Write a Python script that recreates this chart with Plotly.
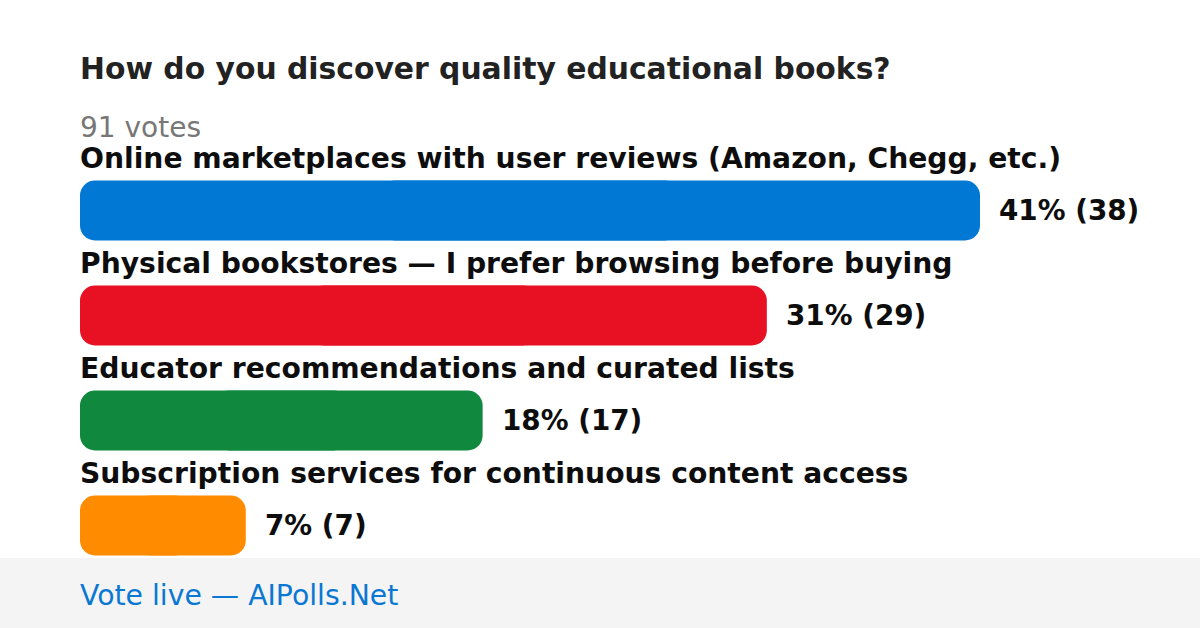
import plotly.graph_objects as go

title = "How do you discover quality educational books?"
subtitle = "91 votes"
footer = "Vote live — AIPolls.Net"
categories = [
    "Online marketplaces with user reviews (Amazon, Chegg, etc.)",
    "Physical bookstores — I prefer browsing before buying",
    "Educator recommendations and curated lists",
    "Subscription services for continuous content access",
]
votes = [38, 29, 17, 7]
percents = [41, 31, 18, 7]
colors = ["#0078d4", "#e81123", "#10893e", "#ff8c00"]

FONT = "DejaVu Sans"
W, H = 1200, 628
L, R, T, B = 80, 220, 158, 50
BAR_W = 60 / 105

fig = go.Figure()
# Each bar is drawn as two overlapping halves so that both ends get rounded corners.
fig.add_trace(go.Bar(
    y=categories, x=[v * 2 / 3 for v in votes], base=[v / 3 for v in votes], orientation="h",
    marker=dict(color=colors, line=dict(width=0)), width=BAR_W, hoverinfo="skip",
))
fig.add_trace(go.Bar(
    y=categories, x=[-v * 2 / 3 for v in votes], base=[v * 2 / 3 for v in votes], orientation="h",
    marker=dict(color=colors, line=dict(width=0)), width=BAR_W, hoverinfo="skip",
))

ann = []
for c, v, p in zip(categories, votes, percents):
    ann.append(dict(x=0, y=c, xref="x", yref="y", text=f"<b>{c}</b>", showarrow=False,
                    xanchor="left", yanchor="middle", yshift=52, xshift=-2,
                    font=dict(family=FONT, size=28.2, color="#0d0d0d")))
    ann.append(dict(x=v, y=c, xref="x", yref="y", text=f"<b>{p}% ({v})</b>", showarrow=False,
                    xanchor="left", yanchor="middle", xshift=17,
                    font=dict(family=FONT, size=27.8, color="#0d0d0d")))

ph = H - T - B
def py(pix):
    return (H - B - pix) / ph

ann.append(dict(x=0, y=py(68), xref="paper", yref="paper", text=f"<b>{title}</b>", showarrow=False,
                xanchor="left", yanchor="middle", xshift=-2,
                font=dict(family=FONT, size=29.8, color="#222222")))
ann.append(dict(x=0, y=py(127), xref="paper", yref="paper", text=subtitle, showarrow=False,
                xanchor="left", yanchor="middle", xshift=-2,
                font=dict(family=FONT, size=28, color="#777777")))
ann.append(dict(x=0, y=py(595), xref="paper", yref="paper", text=footer, showarrow=False,
                xanchor="left", yanchor="middle", xshift=-2,
                font=dict(family=FONT, size=28.3, color="#0a78d2")))

fig.update_layout(
    width=W, height=H, autosize=False,
    margin=dict(l=L, r=R, t=T, b=B, pad=0),
    paper_bgcolor="white", plot_bgcolor="white",
    barmode="overlay", barcornerradius=15,
    showlegend=False,
    xaxis=dict(range=[0, max(votes)], visible=False, fixedrange=True),
    yaxis=dict(range=[len(categories) - 0.5, -0.5], visible=False, fixedrange=True),
    annotations=ann,
    shapes=[dict(type="rect", xref="paper", yref="paper", x0=-1, x1=2,
                 y0=py(640), y1=py(558), fillcolor="#f4f4f4", line=dict(width=0), layer="below")],
)

fig.write_html("out.html", config={"displayModeBar": False},
               post_script="document.body.style.margin='0';document.body.style.overflow='hidden';")
